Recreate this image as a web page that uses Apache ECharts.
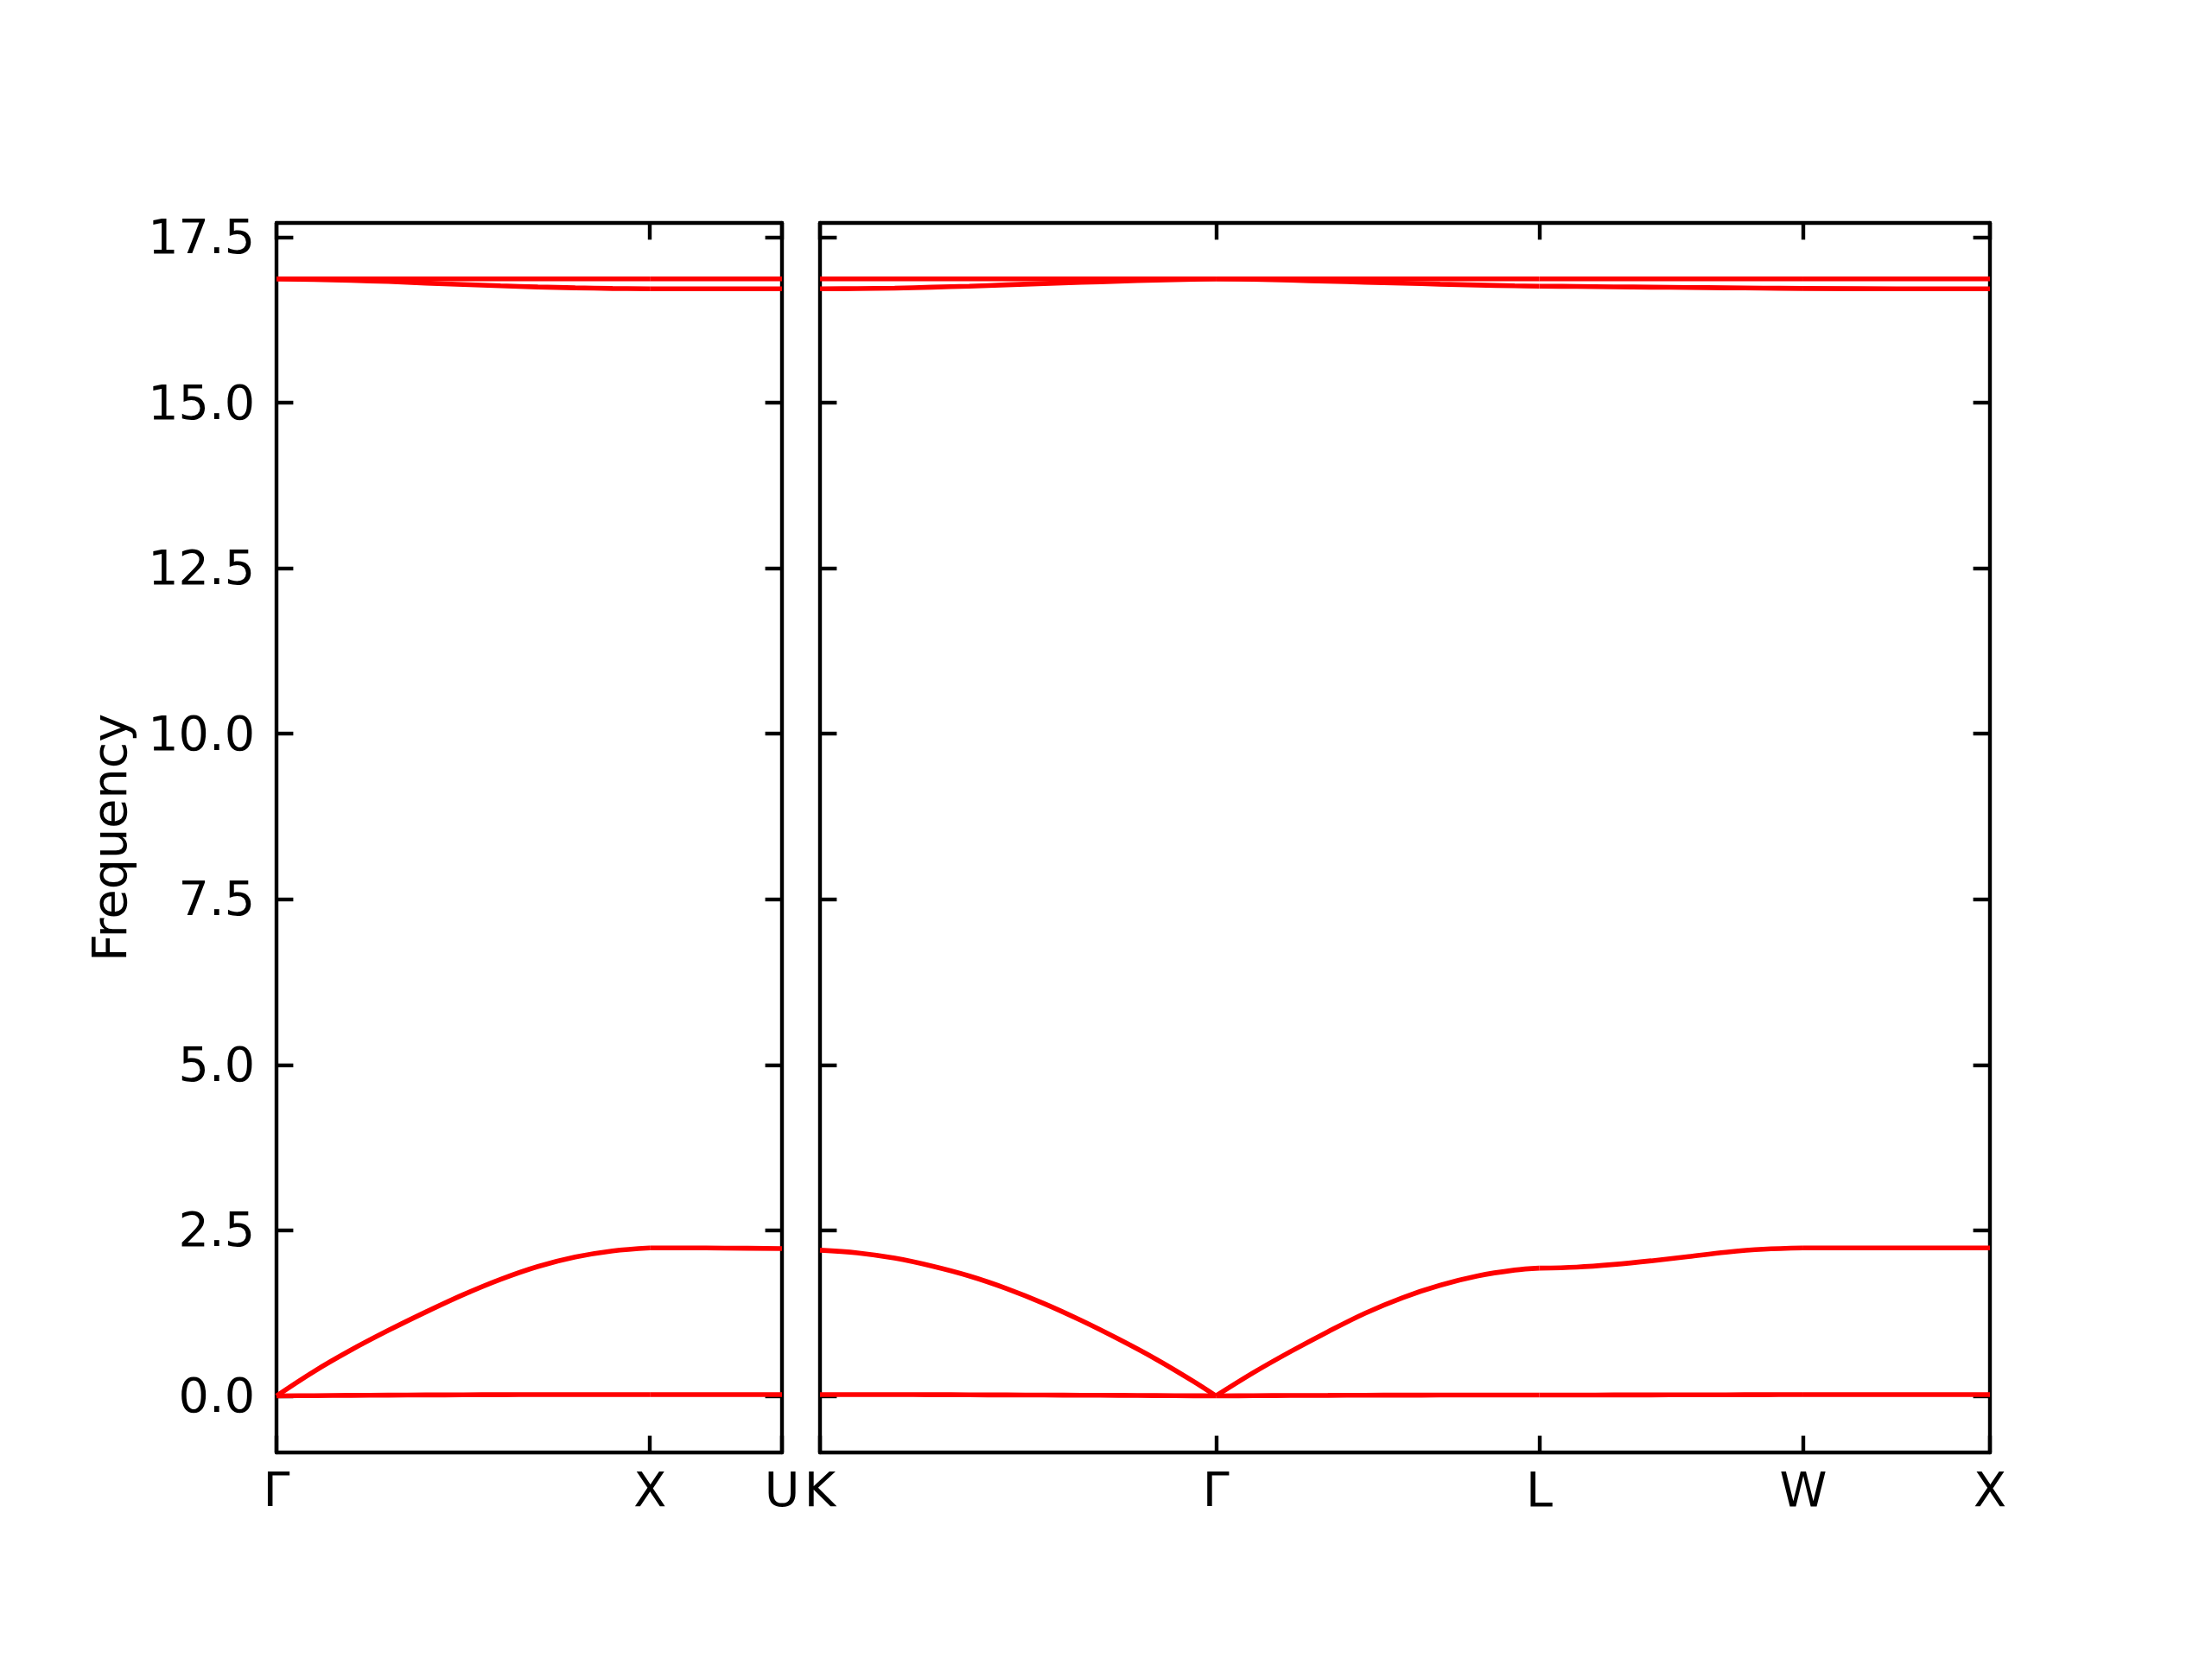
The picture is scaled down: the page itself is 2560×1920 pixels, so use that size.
<!DOCTYPE html>
<html>
<head>
<meta charset="utf-8">
<script src="https://cdn.jsdelivr.net/npm/echarts@6/dist/echarts.min.js"></script>
<style>
html,body{margin:0;padding:0;background:#fff;}
#chart{width:2560px;height:1920px;}
</style>
</head>
<body>
<div id="chart"></div>
<script>
// ---- high-symmetry points (path distance, 2pi/a units) ----
const leftTickPos = [0, 1.0, 1.3536];
const leftTickLabels = ['Γ', 'X', 'U'];
const rightTickPos = [0, 1.0607, 1.9267, 2.6338, 3.1338];
const rightTickLabels = ['K', 'Γ', 'L', 'W', 'X'];
const yTicks = [0, 2.5, 5, 7.5, 10, 12.5, 15, 17.5];
const yMin = -0.855, yMax = 17.715;

// ---- left panel: Γ -> X ----
const kGX   = [0, 0.1, 0.2, 0.3, 0.4, 0.5, 0.6, 0.7, 0.8, 0.9, 1.0];
const GX_ta = [0, 0.004, 0.008, 0.011, 0.014, 0.016, 0.018, 0.019, 0.02, 0.02, 0.02];
const GX_la = [0, 0.368, 0.694, 0.99, 1.267, 1.528, 1.76, 1.954, 2.097, 2.19, 2.235];
const GX_o1 = [16.87, 16.87, 16.87, 16.87, 16.87, 16.87, 16.87, 16.87, 16.87, 16.87, 16.87];
const GX_o2 = [16.87, 16.862, 16.848, 16.83, 16.806, 16.785, 16.765, 16.748, 16.735, 16.725, 16.72];
// ---- left panel: X -> U ----
const kXU   = [0, 0.1, 0.2, 0.3536];
const XU_ta = [0.02, 0.02, 0.02, 0.02];
const XU_la = [2.235, 2.235, 2.232, 2.225];
const XU_o1 = [16.87, 16.87, 16.87, 16.87];
const XU_o2 = [16.72, 16.72, 16.72, 16.72];

// ---- right panel: K -> Γ ----
const kKG   = [0, 0.1, 0.2, 0.3, 0.4, 0.5, 0.6, 0.7, 0.8, 0.9, 1.0, 1.0607];
const KG_ta = [0.02, 0.02, 0.019, 0.018, 0.016, 0.014, 0.012, 0.01, 0.008, 0.005, 0.002, 0];
const KG_la = [2.2, 2.16, 2.08, 1.96, 1.81, 1.62, 1.395, 1.138, 0.857, 0.555, 0.22, 0];
const KG_o1 = [16.87, 16.87, 16.87, 16.87, 16.87, 16.87, 16.87, 16.87, 16.87, 16.87, 16.87, 16.87];
const KG_o2 = [16.72, 16.723, 16.73, 16.745, 16.76, 16.78, 16.8, 16.818, 16.835, 16.852, 16.865, 16.87];
// ---- right panel: Γ -> L ----
const kGL   = [0, 0.1, 0.2, 0.3, 0.4, 0.5, 0.6, 0.7, 0.8, 0.866];
const GL_ta = [0, 0.003, 0.006, 0.008, 0.01, 0.011, 0.012, 0.012, 0.012, 0.012];
const GL_la = [0, 0.35, 0.67, 0.97, 1.25, 1.484, 1.67, 1.81, 1.9, 1.93];
const GL_o1 = [16.87, 16.87, 16.87, 16.87, 16.87, 16.87, 16.87, 16.87, 16.87, 16.87];
const GL_o2 = [16.87, 16.865, 16.85, 16.835, 16.82, 16.805, 16.79, 16.777, 16.765, 16.76];
// ---- right panel: L -> W ----
const kLW   = [0, 0.1, 0.2, 0.3, 0.4, 0.5, 0.6, 0.7071];
const LW_ta = [0.012, 0.013, 0.014, 0.015, 0.016, 0.017, 0.018, 0.02];
const LW_la = [1.93, 1.945, 1.985, 2.04, 2.105, 2.17, 2.215, 2.235];
const LW_o1 = [16.87, 16.87, 16.87, 16.87, 16.87, 16.87, 16.87, 16.87];
const LW_o2 = [16.76, 16.755, 16.75, 16.745, 16.74, 16.735, 16.73, 16.725];
// ---- right panel: W -> X ----
const kWX   = [0, 0.25, 0.5];
const WX_ta = [0.02, 0.02, 0.02];
const WX_la = [2.235, 2.235, 2.235];
const WX_o1 = [16.87, 16.87, 16.87];
const WX_o2 = [16.725, 16.72, 16.72];

const segments = [
  {panel: 0, start: leftTickPos[0],  k: kGX, bands: [GX_ta, GX_la, GX_o1, GX_o2]},
  {panel: 0, start: leftTickPos[1],  k: kXU, bands: [XU_ta, XU_la, XU_o1, XU_o2]},
  {panel: 1, start: rightTickPos[0], k: kKG, bands: [KG_ta, KG_la, KG_o1, KG_o2]},
  {panel: 1, start: rightTickPos[1], k: kGL, bands: [GL_ta, GL_la, GL_o1, GL_o2]},
  {panel: 1, start: rightTickPos[2], k: kLW, bands: [LW_ta, LW_la, LW_o1, LW_o2]},
  {panel: 1, start: rightTickPos[3], k: kWX, bands: [WX_ta, WX_la, WX_o1, WX_o2]}
];

const FONT = 'DejaVu Sans';
const FS = 55.6;
const LW = 4.4;
const TICKLEN = 19.4;

function labelFor(pos, labels, v) {
  let best = 0, bd = Infinity;
  pos.forEach((p, i) => { const d = Math.abs(p - v); if (d < bd) { bd = d; best = i; } });
  return bd < 1e-3 ? labels[best] : '';
}

function xAxes(gi, max, pos, labels) {
  const base = {
    type: 'value', gridIndex: gi, min: 0, max: max,
    splitLine: {show: false},
    axisLine: {show: true, onZero: false, lineStyle: {color: '#000', width: LW}},
    axisTick: {show: true, inside: true, length: TICKLEN, customValues: pos, lineStyle: {color: '#000', width: LW}}
  };
  return [
    Object.assign({}, base, {
      position: 'bottom',
      axisLabel: {show: true, customValues: pos, margin: 20, color: '#000', fontFamily: FONT, fontSize: FS,
        showMinLabel: true, showMaxLabel: true,
        formatter: v => labelFor(pos, labels, v)}
    }),
    Object.assign({}, base, {position: 'top', axisLabel: {show: false}})
  ];
}

function yAxes(gi, withLabels) {
  const base = {
    type: 'value', gridIndex: gi, min: yMin, max: yMax,
    splitLine: {show: false},
    axisLine: {show: true, onZero: false, lineStyle: {color: '#000', width: LW}},
    axisTick: {show: true, inside: true, length: TICKLEN, customValues: yTicks, lineStyle: {color: '#000', width: LW}}
  };
  const left = Object.assign({}, base, {
    position: 'left',
    axisLabel: withLabels ? {show: true, customValues: yTicks, margin: 25, color: '#000', fontFamily: FONT, fontSize: FS,
      verticalAlign: 'top', lineHeight: 8,
      formatter: v => v.toFixed(1)} : {show: false}
  });
  if (withLabels) {
    Object.assign(left, {
      name: 'Frequency', nameLocation: 'middle', nameGap: 160,
      nameTextStyle: {color: '#000', fontFamily: FONT, fontSize: FS}
    });
  }
  const right = Object.assign({}, base, {position: 'right', axisLabel: {show: false}});
  return [left, right];
}

const series = [];
segments.forEach(seg => {
  seg.bands.forEach(band => {
    series.push({
      type: 'line',
      xAxisIndex: seg.panel * 2,
      yAxisIndex: seg.panel * 2,
      data: seg.k.map((k, i) => [seg.start + k, band[i]]),
      showSymbol: false,
      symbol: 'none',
      smooth: 0.35,
      lineStyle: {color: '#ff0000', width: 5.6},
      z: 1,
      silent: true
    });
  });
});

const chart = echarts.init(document.getElementById('chart'), null, {renderer: 'canvas'});
chart.setOption({
  animation: false,
  backgroundColor: '#ffffff',
  grid: [
    {left: 320, top: 258, width: 585, height: 1423},
    {left: 949, top: 258, width: 1354, height: 1423}
  ],
  xAxis: [].concat(
    xAxes(0, leftTickPos[leftTickPos.length - 1], leftTickPos, leftTickLabels),
    xAxes(1, rightTickPos[rightTickPos.length - 1], rightTickPos, rightTickLabels)
  ),
  yAxis: [].concat(yAxes(0, true), yAxes(1, false)),
  series: series
});
</script>
</body>
</html>
